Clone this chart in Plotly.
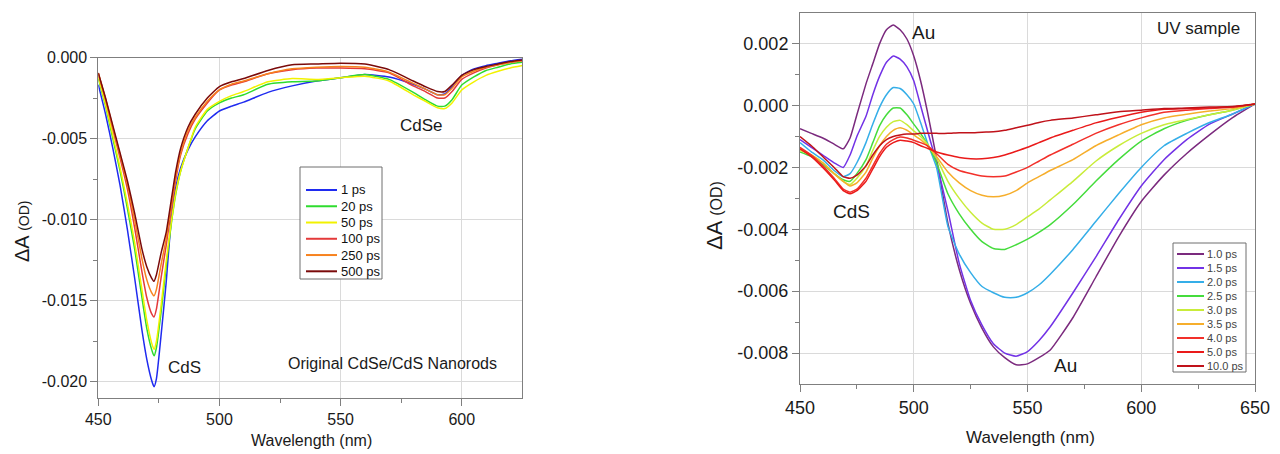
import plotly.graph_objects as go

# ---------------- data: left panel (Original CdSe/CdS nanorods) ----------------
wl_left = [450, 453, 456, 459, 462, 465, 468, 470, 472, 473, 474, 476, 478, 480, 482, 484, 487, 490,
           495, 500, 505, 510, 520, 530, 540, 550, 560, 570, 580, 585, 590, 593, 596, 600, 605, 610,
           615, 620, 625]
left_names = ["1 ps", "20 ps", "50 ps", "100 ps", "250 ps", "500 ps"]
left_colors = ["#1f2bf0", "#2edc2e", "#f2f200", "#e43a3a", "#f7821e", "#7a0a0a"]
# values in units of 1e-3 OD
left_1ps = [-1.67, -3.5, -5.6, -7.9, -10.6, -13.6, -16.8, -18.6, -19.9, -20.3, -19.8, -17.0, -13.9, -10.2,
            -8.0, -6.8, -5.7, -4.9, -3.9, -3.3, -3.0, -2.75, -2.15, -1.75, -1.45, -1.25, -1.05, -1.2,
            -1.65, -1.95, -2.3, -2.25, -1.8, -1.1, -0.7, -0.5, -0.35, -0.2, -0.1]
left_20ps = [-1.3, -3.0, -5.0, -7.0, -9.3, -11.8, -14.8, -16.7, -18.0, -18.4, -17.9, -15.6, -12.9, -10.4,
             -8.4, -7.0, -5.6, -4.4, -3.3, -2.8, -2.5, -2.3, -1.65, -1.5, -1.45, -1.25, -1.05, -1.35,
             -2.15, -2.6, -3.0, -3.0, -2.6, -1.7, -1.2, -0.8, -0.6, -0.4, -0.3]
left_50ps = [-1.2, -2.9, -4.8, -6.8, -9.0, -11.4, -14.3, -16.2, -17.6, -18.0, -17.5, -15.2, -12.6, -10.3,
             -8.3, -7.0, -5.6, -4.3, -3.2, -2.7, -2.35, -2.1, -1.5, -1.3, -1.35, -1.25, -1.15, -1.45,
             -2.3, -2.7, -3.1, -3.15, -2.8, -2.0, -1.5, -1.1, -0.85, -0.65, -0.5]
left_100ps = [-1.0, -2.6, -4.4, -6.2, -8.1, -10.5, -13.2, -14.8, -15.8, -16.0, -15.5, -13.5, -11.6, -9.5,
              -7.5, -6.0, -4.7, -3.8, -2.8, -2.0, -1.7, -1.5, -1.0, -0.75, -0.65, -0.65, -0.7, -0.95,
              -1.75, -2.1, -2.5, -2.5, -2.1, -1.35, -0.95, -0.65, -0.45, -0.3, -0.2]
left_250ps = [-0.95, -2.55, -4.3, -6.0, -7.8, -10.0, -12.4, -13.7, -14.5, -14.7, -14.3, -12.7, -11.2, -9.2,
              -7.3, -5.9, -4.5, -3.7, -2.7, -2.0, -1.65, -1.45, -1.0, -0.7, -0.6, -0.55, -0.6, -0.9,
              -1.6, -1.95, -2.3, -2.3, -1.9, -1.2, -0.85, -0.6, -0.45, -0.3, -0.2]
left_500ps = [-0.95, -2.5, -4.2, -5.9, -7.6, -9.6, -11.8, -12.9, -13.6, -13.8, -13.4, -12.0, -10.8, -8.9,
              -7.0, -5.6, -4.3, -3.5, -2.5, -1.8, -1.5, -1.3, -0.8, -0.45, -0.4, -0.35, -0.4, -0.75,
              -1.45, -1.8, -2.1, -2.1, -1.7, -1.1, -0.75, -0.55, -0.4, -0.25, -0.15]
left_series = [left_1ps, left_20ps, left_50ps, left_100ps, left_250ps, left_500ps]

# ---------------- data: right panel (UV sample) ----------------
wl_right = [450, 455, 460, 465, 469, 472, 475, 479, 482, 485, 488, 491, 494, 497, 500, 503, 506, 510, 515,
            520, 525, 530, 535, 540, 545, 550, 555, 560, 570, 580, 590, 600, 610, 620, 630, 640, 650]
right_names = ["1.0 ps", "1.5 ps", "2.0 ps", "2.5 ps", "3.0 ps", "3.5 ps", "4.0 ps", "5.0 ps", "10.0 ps"]
right_colors = ["#7b2a7e", "#7232e6", "#35aee8", "#45dc3c", "#c9ec3a", "#f6ae2c", "#f2302a", "#ea1a1a", "#c0121a"]
r_10 = [-0.75, -0.9, -1.05, -1.25, -1.4, -1.05, -0.3, 0.7, 1.35, 2.0, 2.45, 2.6, 2.45, 2.15, 1.6, 0.8, -0.2,
        -1.7, -3.8, -5.3, -6.4, -7.2, -7.8, -8.15, -8.38, -8.35, -8.15, -7.9, -6.85, -5.55, -4.25, -3.1, -2.25,
        -1.55, -0.95, -0.4, 0.05]
r_15 = [-1.1, -1.35, -1.6, -1.85, -2.0, -1.6, -1.0, -0.35, 0.35, 0.95, 1.4, 1.6, 1.5, 1.25, 0.8, 0.0, -0.8,
        -1.85, -3.4, -5.1, -6.3, -7.1, -7.7, -8.0, -8.1, -7.95, -7.6, -7.15, -6.05, -4.9, -3.7, -2.6, -1.75,
        -1.1, -0.6, -0.28, 0.05]
r_20 = [-1.2, -1.5, -1.75, -2.1, -2.3, -2.2, -1.85, -1.2, -0.6, -0.05, 0.35, 0.58, 0.55, 0.35, 0.05, -0.55,
        -1.2, -2.0, -3.9, -4.8, -5.4, -5.85, -6.05, -6.2, -6.2, -6.05, -5.8, -5.45, -4.65, -3.75, -2.85,
        -2.0, -1.3, -0.9, -0.55, -0.28, 0.05]
r_25 = [-1.5, -1.65, -1.9, -2.2, -2.4, -2.45, -2.2, -1.75, -1.2, -0.65, -0.3, -0.08, -0.08, -0.3, -0.6, -0.9,
        -1.25, -1.85, -2.85, -3.5, -4.0, -4.4, -4.62, -4.65, -4.5, -4.32, -4.1, -3.85, -3.2, -2.45, -1.75,
        -1.15, -0.75, -0.48, -0.3, -0.15, 0.05]
r_30 = [-1.45, -1.6, -1.85, -2.2, -2.45, -2.55, -2.35, -1.95, -1.45, -1.0, -0.7, -0.52, -0.48, -0.62, -0.82,
        -1.0, -1.25, -1.7, -2.45, -3.0, -3.45, -3.8, -4.0, -4.0, -3.85, -3.6, -3.35, -3.05, -2.45, -1.8,
        -1.3, -0.9, -0.62, -0.45, -0.3, -0.15, 0.05]
r_35 = [-1.4, -1.6, -1.85, -2.2, -2.45, -2.6, -2.5, -2.15, -1.7, -1.3, -1.0, -0.8, -0.72, -0.8, -0.95, -1.1,
        -1.3, -1.65, -2.15, -2.5, -2.75, -2.9, -2.95, -2.9, -2.75, -2.5, -2.3, -2.1, -1.75, -1.3, -0.95,
        -0.62, -0.4, -0.28, -0.18, -0.1, 0.05]
r_40 = [-1.35, -1.6, -1.95, -2.35, -2.7, -2.8, -2.7, -2.35, -1.95, -1.55, -1.25, -1.1, -1.02, -1.05, -1.12,
        -1.2, -1.3, -1.55, -1.9, -2.1, -2.2, -2.28, -2.3, -2.28, -2.15, -2.0, -1.8, -1.6, -1.25, -0.9,
        -0.62, -0.4, -0.22, -0.15, -0.1, -0.05, 0.05]
r_50 = [-1.4, -1.65, -2.0, -2.4, -2.75, -2.85, -2.75, -2.45, -2.05, -1.65, -1.35, -1.2, -1.12, -1.15, -1.2,
        -1.3, -1.38, -1.5, -1.6, -1.68, -1.72, -1.72, -1.68, -1.6, -1.48, -1.35, -1.2, -1.05, -0.8, -0.56,
        -0.38, -0.22, -0.12, -0.1, -0.08, -0.05, 0.05]
r_100 = [-1.0, -1.3, -1.65, -2.0, -2.3, -2.35, -2.25, -1.95, -1.6, -1.3, -1.1, -1.0, -0.95, -0.92, -0.92,
         -0.9, -0.9, -0.9, -0.9, -0.88, -0.88, -0.86, -0.85, -0.8, -0.72, -0.64, -0.55, -0.48, -0.4, -0.3,
         -0.2, -0.15, -0.1, -0.08, -0.05, -0.03, 0.05]
right_series = [r_10, r_15, r_20, r_25, r_30, r_35, r_40, r_50, r_100]

# tick labels
left_xticks = [450, 500, 550, 600]
left_yticks = [0.0, -0.005, -0.010, -0.015, -0.020]
left_yticklabels = ["0.000", "-0.005", "-0.010", "-0.015", "-0.020"]
right_xticks = [450, 500, 550, 600, 650]
right_yticks = [0.002, 0.0, -0.002, -0.004, -0.006, -0.008]
right_yticklabels = ["0.002", "0.000", "-0.002", "-0.004", "-0.006", "-0.008"]

# ---------------- figure ----------------
W, H = 1280, 454
FONT = "Liberation Sans, Arial, sans-serif"


def px(x):
    return x / W


def py(y):
    return 1 - y / H


fig = go.Figure()
for name, col, vals in zip(left_names, left_colors, left_series):
    fig.add_trace(go.Scatter(x=wl_left, y=[v * 1e-3 for v in vals], mode="lines", name=name,
                             line=dict(color=col, width=1.5, shape="spline", smoothing=0.5),
                             xaxis="x", yaxis="y", showlegend=False))
for name, col, vals in zip(right_names, right_colors, right_series):
    fig.add_trace(go.Scatter(x=wl_right, y=[v * 1e-3 for v in vals], mode="lines", name=name,
                             line=dict(color=col, width=1.5, shape="spline", smoothing=0.5),
                             xaxis="x2", yaxis="y2", showlegend=False))

axis_common = dict(showline=True, linecolor="#7f7f7f", linewidth=1, mirror=True, automargin=False,
                   ticks="outside", ticklen=7, tickcolor="#7f7f7f",
                   showgrid=True, gridcolor="#dadada", gridwidth=1, zeroline=False,
                   tickfont=dict(family=FONT, color="#1a1a1a"))

fig.update_layout(
    width=W, height=H, margin=dict(l=0, r=0, t=0, b=0, autoexpand=False),
    paper_bgcolor="white", plot_bgcolor="white",
    font=dict(family=FONT, color="#1a1a1a"),
    xaxis=dict(axis_common, domain=[px(98.3), px(522.3)], range=[450, 625], anchor="y",
               tickmode="array", tickvals=left_xticks, tickfont=dict(family=FONT, size=16, color="#1a1a1a"),
               minor=dict(tickmode="array", tickvals=[475, 525, 575], ticks="outside", ticklen=4,
                          tickcolor="#7f7f7f", showgrid=False)),
    yaxis=dict(axis_common, domain=[py(398), py(57.5)], range=[-0.021, 0.0], anchor="x",
               tickmode="array", tickvals=left_yticks, ticktext=left_yticklabels,
               tickfont=dict(family=FONT, size=16, color="#1a1a1a"),
               minor=dict(tickmode="array", tickvals=[-0.0025, -0.0075, -0.0125, -0.0175], ticks="outside",
                          ticklen=4, tickcolor="#7f7f7f", showgrid=False)),
    xaxis2=dict(axis_common, domain=[px(800), px(1255)], range=[450, 650], anchor="y2",
                tickmode="array", tickvals=right_xticks, tickfont=dict(family=FONT, size=18, color="#1a1a1a"),
                minor=dict(tickmode="array", tickvals=[475, 525, 575, 625], ticks="outside", ticklen=4,
                           tickcolor="#7f7f7f", showgrid=False)),
    yaxis2=dict(axis_common, domain=[py(384), py(12.7)], range=[-0.009, 0.003], anchor="x2",
                tickmode="array", tickvals=right_yticks, ticktext=right_yticklabels,
                tickfont=dict(family=FONT, size=18, color="#1a1a1a"),
                minor=dict(tickmode="array", tickvals=[0.001, -0.001, -0.003, -0.005, -0.007], ticks="outside",
                           ticklen=4, tickcolor="#7f7f7f", showgrid=False)),
)

ann = []
# axis titles
ann.append(dict(x=px(311), y=py(440), xref="paper", yref="paper", text="Wavelength (nm)", showarrow=False,
                font=dict(size=16), xanchor="center", yanchor="middle"))
ann.append(dict(x=px(1030), y=py(437), xref="paper", yref="paper", text="Wavelength (nm)", showarrow=False,
                font=dict(size=17), xanchor="center", yanchor="middle"))
ann.append(dict(x=px(22), y=py(232), xref="paper", yref="paper", textangle=-90,
                text="ΔA <span style='font-size:14px'>(OD)</span>", showarrow=False,
                font=dict(size=20), xanchor="center", yanchor="middle"))
ann.append(dict(x=px(715), y=py(216), xref="paper", yref="paper", textangle=-90,
                text="ΔA <span style='font-size:16px'>(OD)</span>", showarrow=False,
                font=dict(size=22), xanchor="center", yanchor="middle"))
# in-plot labels
ann.append(dict(x=485.7, y=-0.0191, xref="x", yref="y", text="CdS", showarrow=False, font=dict(size=17)))
ann.append(dict(x=583.4, y=-0.0042, xref="x", yref="y", text="CdSe", showarrow=False, font=dict(size=17)))
ann.append(dict(x=571.4, y=-0.01885, xref="x", yref="y", text="Original CdSe/CdS Nanorods", showarrow=False,
                font=dict(size=16)))
ann.append(dict(x=504.2, y=0.00237, xref="x2", yref="y2", text="Au", showarrow=False, font=dict(size=19)))
ann.append(dict(x=625.1, y=0.00248, xref="x2", yref="y2", text="UV sample", showarrow=False, font=dict(size=17)))
ann.append(dict(x=472.7, y=-0.00343, xref="x2", yref="y2", text="CdS", showarrow=False, font=dict(size=19)))
ann.append(dict(x=566.5, y=-0.00841, xref="x2", yref="y2", text="Au", showarrow=False, font=dict(size=19)))

shapes = []


def add_legend(names, colors, box, line_x, text_x, y0, step, fsize, tcolor):
    shapes.append(dict(type="rect", xref="paper", yref="paper", x0=px(box[0]), x1=px(box[2]),
                       y0=py(box[3]), y1=py(box[1]), line=dict(color="#6e6e6e", width=1),
                       fillcolor="white", layer="above"))
    for i, (n, c) in enumerate(zip(names, colors)):
        yy = y0 + i * step
        shapes.append(dict(type="line", xref="paper", yref="paper", x0=px(line_x[0]), x1=px(line_x[1]),
                           y0=py(yy), y1=py(yy), line=dict(color=c, width=2), layer="above"))
        ann.append(dict(x=px(text_x), y=py(yy), xref="paper", yref="paper", text=n, showarrow=False,
                        xanchor="left", yanchor="middle", font=dict(size=fsize, color=tcolor)))


add_legend(left_names, left_colors, (300, 167, 382, 279), (306, 337), 339, 190, 16.26, 13, "#111111")
add_legend(right_names, right_colors, (1173, 243, 1246, 372), (1177, 1204), 1205, 254, 14.0, 11, "#444444")

fig.update_layout(annotations=ann, shapes=shapes)
fig.write_html("out.html")
